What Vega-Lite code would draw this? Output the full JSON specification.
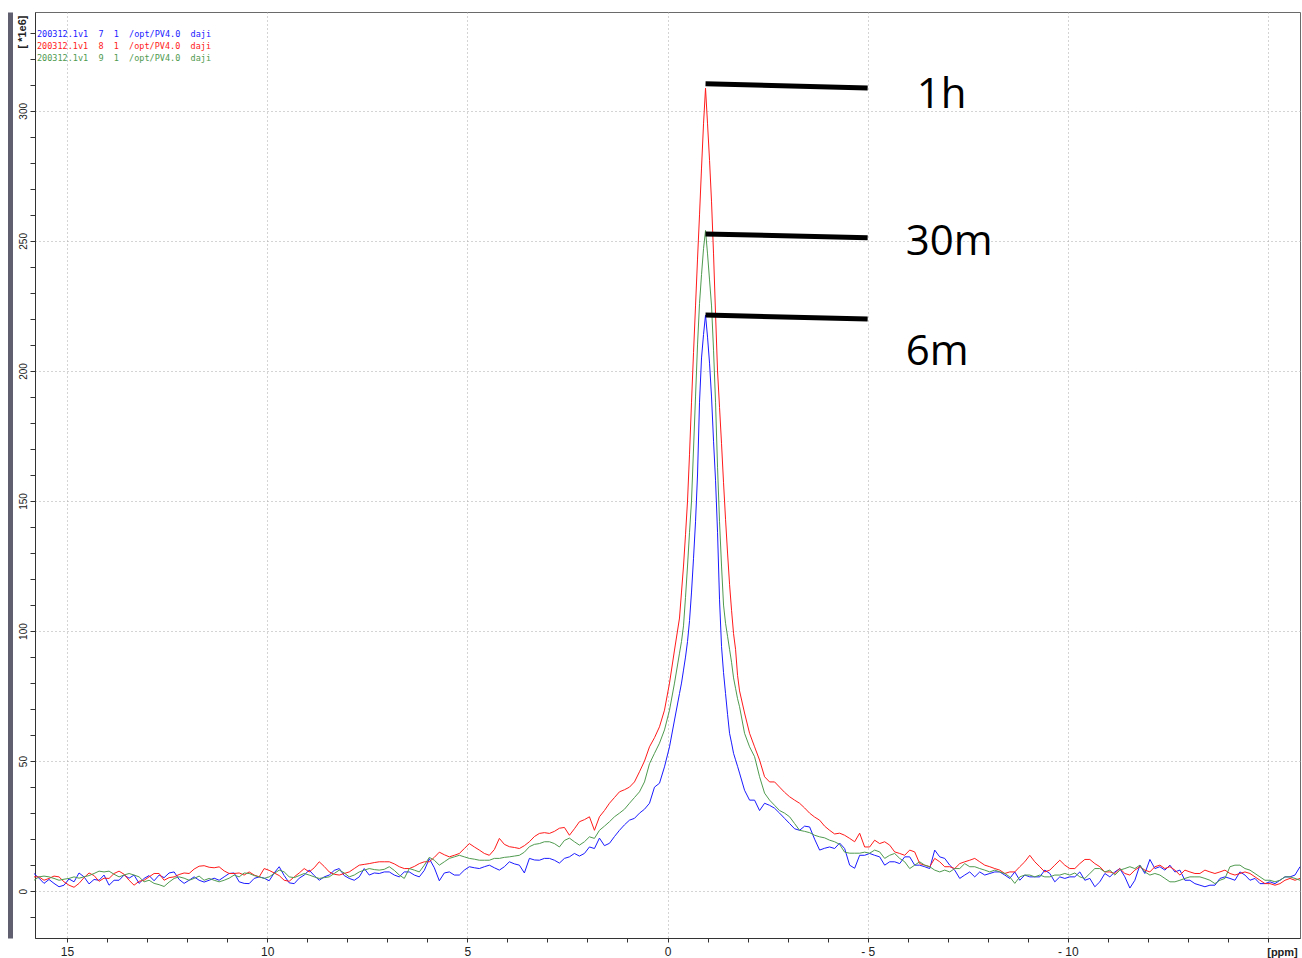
{
  "$schema": "https://vega.github.io/schema/vega-lite/v6.json",
  "width": 1265,
  "height": 926,
  "autosize": {"type": "none"},
  "padding": {"left": 35, "top": 12, "right": 2, "bottom": 20},
  "background": "white",
  "config": {"view": {"stroke": "#6a6a6a", "strokeWidth": 1}},
  "datasets": {
    "spec": [
      {"x":15.825,"r":5.5,"g":4.2,"b":6.8},{"x":15.7,"r":5.5,"g":5.5,"b":5.0},{"x":15.575,"r":4.2,"g":5.8,"b":3.0},{"x":15.45,"r":4.9,"g":5.5,"b":4.5},{"x":15.325,"r":5.8,"g":4.9,"b":3.0},{"x":15.2,"r":5.5,"g":4.2,"b":1.7},{"x":15.075,"r":3.6,"g":4.6,"b":2.3},{"x":14.95,"r":2.3,"g":4.9,"b":4.7},{"x":14.825,"r":1.5,"g":5.5,"b":3.6},{"x":14.7,"r":3.0,"g":5.0,"b":7.0},
      {"x":14.575,"r":5.2,"g":5.5,"b":5.5},{"x":14.45,"r":7.0,"g":6.0,"b":2.8},{"x":14.325,"r":6.0,"g":6.8,"b":4.5},{"x":14.2,"r":3.8,"g":7.7,"b":4.2},{"x":14.075,"r":5.0,"g":7.4,"b":6.2},{"x":13.95,"r":4.9,"g":7.7,"b":2.3},{"x":13.825,"r":6.8,"g":6.5,"b":4.2},{"x":13.7,"r":7.7,"g":5.5,"b":4.2},{"x":13.575,"r":6.5,"g":6.2,"b":6.2},{"x":13.45,"r":4.2,"g":6.8,"b":5.0},
      {"x":13.325,"r":2.3,"g":6.2,"b":6.2},{"x":13.2,"r":3.8,"g":5.5,"b":3.0},{"x":13.075,"r":4.2,"g":3.6,"b":4.9},{"x":12.95,"r":5.5,"g":4.2,"b":6.0},{"x":12.825,"r":6.8,"g":3.0,"b":4.0},{"x":12.7,"r":6.8,"g":2.5,"b":6.2},{"x":12.575,"r":4.2,"g":1.8,"b":5.2},{"x":12.45,"r":5.2,"g":3.5,"b":7.0},{"x":12.325,"r":5.5,"g":4.9,"b":7.4},{"x":12.2,"r":6.4,"g":5.5,"b":4.5},
      {"x":12.075,"r":7.0,"g":5.0,"b":3.0},{"x":11.95,"r":6.8,"g":4.2,"b":4.2},{"x":11.825,"r":8.5,"g":4.9,"b":5.5},{"x":11.7,"r":9.6,"g":5.8,"b":4.2},{"x":11.575,"r":9.8,"g":4.2,"b":3.5},{"x":11.45,"r":9.2,"g":4.9,"b":4.2},{"x":11.325,"r":9.0,"g":4.2,"b":5.0},{"x":11.2,"r":9.35,"g":3.6,"b":4.2},{"x":11.075,"r":7.8,"g":4.2,"b":5.5},{"x":10.95,"r":6.8,"g":5.0,"b":6.8},
      {"x":10.825,"r":6.8,"g":6.2,"b":7.0},{"x":10.7,"r":7.0,"g":5.5,"b":3.6},{"x":10.575,"r":6.2,"g":7.0,"b":3.0},{"x":10.45,"r":7.4,"g":6.8,"b":2.9},{"x":10.325,"r":6.2,"g":6.0,"b":4.9},{"x":10.2,"r":5.5,"g":5.5,"b":5.5},{"x":10.075,"r":8.7,"g":4.9,"b":5.0},{"x":9.95,"r":8.0,"g":5.5,"b":4.0},{"x":9.825,"r":7.0,"g":6.8,"b":7.0},{"x":9.7,"r":6.0,"g":8.1,"b":9.4},
      {"x":9.575,"r":4.2,"g":7.4,"b":6.0},{"x":9.45,"r":3.8,"g":5.5,"b":3.2},{"x":9.325,"r":5.5,"g":5.2,"b":2.9},{"x":9.2,"r":7.0,"g":6.0,"b":5.0},{"x":9.075,"r":8.7,"g":6.8,"b":6.2},{"x":8.95,"r":7.4,"g":6.2,"b":8.1},{"x":8.825,"r":9.0,"g":5.5,"b":6.0},{"x":8.7,"r":11.3,"g":4.9,"b":4.2},{"x":8.575,"r":9.5,"g":5.2,"b":5.5},{"x":8.45,"r":7.4,"g":5.5,"b":6.2},
      {"x":8.325,"r":6.5,"g":6.8,"b":8.0},{"x":8.2,"r":6.2,"g":8.1,"b":8.7},{"x":8.075,"r":6.8,"g":7.0,"b":6.0},{"x":7.95,"r":7.4,"g":5.5,"b":4.9},{"x":7.825,"r":8.7,"g":6.2,"b":4.2},{"x":7.7,"r":10.0,"g":7.4,"b":5.5},{"x":7.575,"r":10.3,"g":8.1,"b":8.7},{"x":7.45,"r":10.6,"g":8.7,"b":6.2},{"x":7.325,"r":11.0,"g":8.3,"b":7.0},{"x":7.2,"r":11.3,"g":8.1,"b":6.8},
      {"x":7.075,"r":11.3,"g":8.4,"b":7.4},{"x":6.95,"r":11.3,"g":9.4,"b":7.4},{"x":6.825,"r":10.5,"g":8.0,"b":6.2},{"x":6.7,"r":9.4,"g":6.2,"b":5.5},{"x":6.575,"r":8.7,"g":4.9,"b":7.4},{"x":6.45,"r":8.7,"g":8.7,"b":7.4},{"x":6.325,"r":9.5,"g":8.1,"b":6.2},{"x":6.2,"r":10.6,"g":7.4,"b":5.5},{"x":6.075,"r":11.3,"g":10.0,"b":8.0},{"x":5.95,"r":11.3,"g":13.0,"b":12.5},
      {"x":5.825,"r":13.0,"g":11.9,"b":9.0},{"x":5.7,"r":15.0,"g":10.0,"b":4.0},{"x":5.575,"r":14.0,"g":11.3,"b":7.0},{"x":5.45,"r":13.2,"g":12.6,"b":7.4},{"x":5.325,"r":13.8,"g":13.2,"b":6.2},{"x":5.2,"r":14.5,"g":13.8,"b":6.2},{"x":5.075,"r":16.4,"g":13.2,"b":8.1},{"x":4.95,"r":18.3,"g":12.6,"b":9.4},{"x":4.825,"r":17.0,"g":12.3,"b":9.0},{"x":4.7,"r":15.8,"g":11.9,"b":8.7},
      {"x":4.575,"r":14.5,"g":11.9,"b":9.4},{"x":4.45,"r":13.8,"g":11.9,"b":10.0},{"x":4.325,"r":16.0,"g":12.6,"b":9.0},{"x":4.2,"r":20.3,"g":12.6,"b":8.1},{"x":4.075,"r":18.0,"g":13.0,"b":9.4},{"x":3.95,"r":17.1,"g":13.2,"b":11.3},{"x":3.825,"r":16.8,"g":13.5,"b":10.5},{"x":3.7,"r":16.4,"g":13.8,"b":10.0},{"x":3.575,"r":17.5,"g":15.0,"b":7.0},{"x":3.45,"r":19.0,"g":17.1,"b":12.6},
      {"x":3.325,"r":21.0,"g":18.0,"b":12.0},{"x":3.2,"r":22.2,"g":18.3,"b":11.9},{"x":3.075,"r":22.5,"g":19.0,"b":12.6},{"x":2.95,"r":22.2,"g":19.0,"b":12.6},{"x":2.825,"r":23.0,"g":18.3,"b":11.9},{"x":2.7,"r":24.2,"g":17.0,"b":10.8},{"x":2.575,"r":24.5,"g":19.5,"b":12.6},{"x":2.45,"r":21.5,"g":20.4,"b":13.2},{"x":2.325,"r":24.0,"g":19.0,"b":14.5},{"x":2.2,"r":26.7,"g":17.7,"b":13.5},
      {"x":2.075,"r":27.5,"g":19.0,"b":14.5},{"x":1.95,"r":28.6,"g":20.9,"b":17.0},{"x":1.825,"r":23.4,"g":20.3,"b":16.4},{"x":1.7,"r":28.6,"g":23.4,"b":20.4},{"x":1.575,"r":31.0,"g":25.0,"b":17.5},{"x":1.45,"r":33.8,"g":26.7,"b":18.4},{"x":1.325,"r":36.0,"g":28.6,"b":21.0},{"x":1.2,"r":38.2,"g":30.0,"b":23.4},{"x":1.075,"r":39.0,"g":31.5,"b":25.5},{"x":0.95,"r":40.0,"g":33.8,"b":27.3},
      {"x":0.825,"r":42.0,"g":36.0,"b":28.0},{"x":0.7,"r":45.9,"g":38.2,"b":30.0},{"x":0.575,"r":50.0,"g":42.0,"b":31.5},{"x":0.45,"r":55.5,"g":49.0,"b":33.8},{"x":0.325,"r":59.0,"g":53.0,"b":40.0},{"x":0.2,"r":63.2,"g":56.9,"b":41.5},{"x":0.075,"r":69.6,"g":62.0,"b":47.8},{"x":-0.05,"r":80.0,"g":69.6,"b":55.5},{"x":-0.175,"r":92.7,"g":80.0,"b":65.8},
      {"x":-0.3,"r":105,"g":91.5,"b":76},{"x":-0.35,"r":115,"g":96,"b":80},{"x":-0.4,"r":125,"g":102,"b":85},{"x":-0.45,"r":137,"g":113,"b":90},{"x":-0.5,"r":150,"g":125,"b":96},{"x":-0.55,"r":168,"g":138,"b":104},{"x":-0.6,"r":188,"g":150,"b":115},{"x":-0.65,"r":207,"g":170,"b":128},{"x":-0.7,"r":225,"g":190,"b":142},{"x":-0.75,"r":243,"g":210,"b":160},
      {"x":-0.8,"r":260,"g":226,"b":188},{"x":-0.85,"r":278,"g":237,"b":205},{"x":-0.9,"r":295,"g":247,"b":214},{"x":-0.95,"r":308.7,"g":254,"b":221.5},{"x":-1.0,"r":295,"g":245,"b":213},{"x":-1.05,"r":281,"g":235,"b":203},{"x":-1.1,"r":265,"g":225,"b":190},{"x":-1.15,"r":245,"g":208,"b":173},{"x":-1.2,"r":222,"g":188,"b":158},{"x":-1.25,"r":200,"g":163,"b":138},
      {"x":-1.3,"r":186,"g":142,"b":112},{"x":-1.35,"r":172,"g":125,"b":94},{"x":-1.4,"r":157,"g":110,"b":84},{"x":-1.45,"r":143,"g":103,"b":76},{"x":-1.5,"r":130,"g":98,"b":68},{"x":-1.55,"r":118,"g":93,"b":60.7},{"x":-1.6,"r":108,"g":88,"b":57},{"x":-1.65,"r":99,"g":82,"b":53},{"x":-1.7,"r":93,"g":78,"b":50.5},{"x":-1.75,"r":83,"g":74,"b":48},{"x":-1.8,"r":77,"g":70.9,"b":45.4},
      {"x":-1.925,"r":68.5,"g":60.7,"b":38.8},{"x":-2.05,"r":60.7,"g":55.5,"b":35},{"x":-2.175,"r":55.5,"g":51.7,"b":35},{"x":-2.3,"r":50.4,"g":44,"b":31},{"x":-2.425,"r":44,"g":37.7,"b":33.8},{"x":-2.55,"r":42,"g":35,"b":33},{"x":-2.675,"r":42,"g":33,"b":31.9},{"x":-2.8,"r":40,"g":31,"b":30},{"x":-2.925,"r":38,"g":30,"b":28},{"x":-3.05,"r":36.3,"g":28.6,"b":26},
      {"x":-3.175,"r":35,"g":26,"b":24},{"x":-3.3,"r":33.8,"g":23.4,"b":23.4},{"x":-3.425,"r":32,"g":23,"b":25},{"x":-3.55,"r":30,"g":22.5,"b":24.7},{"x":-3.675,"r":28.5,"g":21.5,"b":20},{"x":-3.8,"r":27.3,"g":20.9,"b":15.8},{"x":-3.925,"r":25,"g":20.5,"b":16.5},{"x":-4.05,"r":23.4,"g":19.6,"b":17},{"x":-4.175,"r":22,"g":19,"b":16.4},{"x":-4.3,"r":22.3,"g":18,"b":18.5},
      {"x":-4.425,"r":21.5,"g":15,"b":16.4},{"x":-4.55,"r":20.3,"g":14.6,"b":10},{"x":-4.675,"r":19,"g":14.6,"b":8.8},{"x":-4.8,"r":22.3,"g":14.6,"b":13.8},{"x":-4.925,"r":17,"g":15,"b":13.8},{"x":-5.05,"r":17,"g":14.6,"b":14.5},{"x":-5.175,"r":19.6,"g":15.8,"b":13.8},{"x":-5.3,"r":18.3,"g":15.1,"b":13.2},{"x":-5.425,"r":19.0,"g":12.6,"b":10.0},{"x":-5.55,"r":17.7,"g":13.8,"b":11.3},
      {"x":-5.675,"r":15.1,"g":14.5,"b":11.3},{"x":-5.8,"r":14.5,"g":12.6,"b":10.6},{"x":-5.925,"r":13.8,"g":11.3,"b":13.2},{"x":-6.05,"r":15.8,"g":8.7,"b":13.2},{"x":-6.175,"r":15.1,"g":10.0,"b":10.0},{"x":-6.3,"r":10.6,"g":11.3,"b":10.0},{"x":-6.425,"r":10.0,"g":10.0,"b":9.4},{"x":-6.55,"r":9.4,"g":9.4,"b":8.7},{"x":-6.675,"r":12.6,"g":8.1,"b":15.8},{"x":-6.8,"r":11.3,"g":7.4,"b":13.2},
      {"x":-6.925,"r":9.4,"g":8.1,"b":12.6},{"x":-7.05,"r":9.4,"g":7.4,"b":10.0},{"x":-7.175,"r":8.7,"g":8.7,"b":8.1},{"x":-7.3,"r":10.6,"g":8.7,"b":4.9},{"x":-7.425,"r":11.3,"g":10.6,"b":6.2},{"x":-7.55,"r":11.9,"g":9.4,"b":7.4},{"x":-7.675,"r":12.6,"g":9.4,"b":5.5},{"x":-7.8,"r":11.3,"g":8.7,"b":7.4},{"x":-7.925,"r":10.0,"g":8.1,"b":6.2},{"x":-8.05,"r":9.4,"g":7.4,"b":6.8},
      {"x":-8.175,"r":8.7,"g":8.1,"b":7.4},{"x":-8.3,"r":8.1,"g":7.4,"b":7.4},{"x":-8.425,"r":6.8,"g":6.8,"b":6.2},{"x":-8.55,"r":7.4,"g":5.5,"b":4.9},{"x":-8.675,"r":7.4,"g":3.0,"b":7.4},{"x":-8.8,"r":9.4,"g":5.5,"b":4.2},{"x":-8.925,"r":11.3,"g":6.2,"b":6.2},{"x":-9.05,"r":13.8,"g":6.2,"b":5.5},{"x":-9.175,"r":11.3,"g":5.5,"b":5.5},{"x":-9.3,"r":9.4,"g":6.2,"b":5.5},
      {"x":-9.425,"r":7.4,"g":5.5,"b":8.1},{"x":-9.55,"r":8.1,"g":5.5,"b":6.8},{"x":-9.675,"r":10.0,"g":6.2,"b":3.6},{"x":-9.8,"r":11.9,"g":6.2,"b":5.5},{"x":-9.925,"r":10.0,"g":6.8,"b":4.9},{"x":-10.05,"r":8.7,"g":6.2,"b":5.5},{"x":-10.175,"r":8.7,"g":7.0,"b":5.5},{"x":-10.3,"r":10.6,"g":5.5,"b":7.4},{"x":-10.425,"r":12.2,"g":4.9,"b":4.2},{"x":-10.55,"r":12.2,"g":6.8,"b":4.9},
      {"x":-10.675,"r":10.6,"g":8.7,"b":1.7},{"x":-10.8,"r":9.4,"g":8.7,"b":3.6},{"x":-10.925,"r":7.4,"g":7.4,"b":6.8},{"x":-11.05,"r":7.4,"g":8.1,"b":5.5},{"x":-11.175,"r":6.8,"g":6.2,"b":7.4},{"x":-11.3,"r":8.7,"g":8.1,"b":8.7},{"x":-11.425,"r":6.8,"g":8.7,"b":5.5},{"x":-11.55,"r":6.2,"g":9.4,"b":1.2},{"x":-11.675,"r":8.1,"g":8.7,"b":4.2},{"x":-11.8,"r":9.4,"g":10.0,"b":10.0},
      {"x":-11.925,"r":8.1,"g":7.4,"b":6.8},{"x":-12.05,"r":7.4,"g":6.2,"b":12.2},{"x":-12.175,"r":9.4,"g":6.8,"b":8.7},{"x":-12.3,"r":10.0,"g":6.2,"b":9.4},{"x":-12.425,"r":8.7,"g":4.9,"b":8.1},{"x":-12.55,"r":9.4,"g":3.6,"b":10.0},{"x":-12.675,"r":8.1,"g":3.6,"b":7.4},{"x":-12.8,"r":6.2,"g":4.2,"b":8.1},{"x":-12.925,"r":8.1,"g":4.9,"b":4.2},{"x":-13.05,"r":7.4,"g":5.5,"b":4.2},
      {"x":-13.175,"r":6.8,"g":5.5,"b":2.9},{"x":-13.3,"r":6.8,"g":5.5,"b":2.3},{"x":-13.425,"r":8.1,"g":4.9,"b":1.7},{"x":-13.55,"r":7.4,"g":4.2,"b":2.3},{"x":-13.675,"r":6.8,"g":2.9,"b":2.3},{"x":-13.8,"r":7.4,"g":4.2,"b":4.9},{"x":-13.925,"r":8.1,"g":4.9,"b":5.5},{"x":-14.05,"r":6.8,"g":9.4,"b":4.9},{"x":-14.175,"r":6.2,"g":10.0,"b":4.2},{"x":-14.3,"r":6.8,"g":10.0,"b":7.4},
      {"x":-14.425,"r":7.4,"g":8.7,"b":6.2},{"x":-14.55,"r":6.8,"g":8.1,"b":4.2},{"x":-14.675,"r":5.5,"g":6.8,"b":4.9},{"x":-14.8,"r":4.2,"g":5.5,"b":2.9},{"x":-14.925,"r":2.9,"g":4.2,"b":2.9},{"x":-15.05,"r":2.9,"g":4.2,"b":3.6},{"x":-15.175,"r":2.3,"g":3.6,"b":2.9},{"x":-15.3,"r":2.9,"g":4.2,"b":4.2},{"x":-15.425,"r":4.2,"g":5.5,"b":5.5},{"x":-15.55,"r":4.9,"g":5.5,"b":5.5},
      {"x":-15.675,"r":4.2,"g":4.9,"b":6.2},{"x":-15.8,"r":4.9,"g":4.2,"b":9.4}
    ],
    "ann": [
      {"x":-0.95,"v":310.4,"xe":-5.0,"ve":308.8},
      {"x":-0.95,"v":252.7,"xe":-5.0,"ve":251.2},
      {"x":-0.95,"v":221.5,"xe":-5.0,"ve":220.0}
    ],
    "lab": [
      {"x":-6.225,"v":301.0,"label":"1h"},
      {"x":-5.95,"v":244.6,"label":"30m"},
      {"x":-5.95,"v":202.3,"label":"6m"}
    ],
    "leg": [
      {"x":15.75,"v":329.5,"s":"b","t":"200312.1v1\u00a0\u00a07\u00a0\u00a01\u00a0\u00a0/opt/PV4.0\u00a0\u00a0daji"},
      {"x":15.75,"v":325.1,"s":"r","t":"200312.1v1\u00a0\u00a08\u00a0\u00a01\u00a0\u00a0/opt/PV4.0\u00a0\u00a0daji"},
      {"x":15.75,"v":320.4,"s":"g","t":"200312.1v1\u00a0\u00a09\u00a0\u00a01\u00a0\u00a0/opt/PV4.0\u00a0\u00a0daji"}
    ]
  },
  "resolve": {"axis": {"y": "independent"}},
  "encoding": {
    "x": {
      "field": "x", "type": "quantitative",
      "scale": {"domain": [-15.8, 15.8], "reverse": true, "nice": false, "zero": false},
      "axis": {
        "orient": "bottom",
        "values": [-15,-14,-13,-12,-11,-10,-9,-8,-7,-6,-5,-4,-3,-2,-1,0,1,2,3,4,5,6,7,8,9,10,11,12,13,14,15],
        "labelExpr": "datum.value % 5 === 0 && datum.value > -15 ? (datum.value < 0 ? '- ' + abs(datum.value) : '' + datum.value) : ''",
        "labelOverlap": false, "labelFlush": false,
        "labelFont": "Liberation Sans", "labelFontSize": 12, "labelColor": "#222222",
        "labelPadding": 4, "tickSize": 4, "tickColor": "#333333", "domainColor": "#333333",
        "grid": true, "gridColor": "#a8a8a8", "gridDash": [1, 3],
        "gridOpacity": {"condition": {"test": "datum.value % 5 === 0", "value": 1}, "value": 0},
        "title": "[ppm]", "titleX": 1247, "titleY": 14, "titleAlign": "center", "titleBaseline": "middle",
        "titleFont": "Liberation Sans", "titleFontSize": 11, "titleFontWeight": "bold", "titleColor": "#222222"
      }
    },
    "y": {
      "field": "v", "type": "quantitative",
      "scale": {"domain": [-18, 338], "nice": false, "zero": false},
      "axis": {
        "orient": "left",
        "values": [-10,0,10,20,30,40,50,60,70,80,90,100,110,120,130,140,150,160,170,180,190,200,210,220,230,240,250,260,270,280,290,300,310,320,330],
        "labelExpr": "datum.value % 50 === 0 ? '' + datum.value : ''",
        "labelOverlap": false, "labelFlush": false,
        "labelAngle": 270, "labelAlign": "center", "labelBaseline": "middle",
        "labelFont": "Liberation Sans", "labelFontSize": 10, "labelColor": "#222222",
        "labelPadding": 7, "tickSize": 5, "tickColor": "#333333", "domainColor": "#333333",
        "grid": true, "gridColor": "#a8a8a8", "gridDash": [1, 3],
        "gridOpacity": {"condition": {"test": "datum.value % 50 === 0", "value": 1}, "value": 0},
        "title": "[ *1e6]", "titleAngle": 270, "titleX": -13, "titleY": 3, "titleAlign": "right", "titleBaseline": "middle",
        "titleFont": "Liberation Sans", "titleFontSize": 11, "titleFontWeight": "bold", "titleColor": "#222222"
      }
    }
  },
  "layer": [
    {
      "data": {"name": "spec"},
      "transform": [{"fold": ["b", "r", "g"], "as": ["s", "v"]}],
      "mark": {"type": "line", "strokeWidth": 1},
      "encoding": {
        "color": {
          "field": "s", "type": "nominal",
          "scale": {"domain": ["b", "r", "g"], "range": ["#1a1aff", "#ff1a1a", "#4f9a4f"]},
          "legend": null
        }
      }
    },
    {
      "data": {"name": "ann"},
      "mark": {"type": "rule", "strokeWidth": 5, "color": "#000000"},
      "encoding": {
        "y": {"field": "v", "type": "quantitative",
              "axis": {"orient": "left", "offset": 25, "domain": true, "domainWidth": 5, "domainColor": "#5f5f70", "ticks": false, "labels": false, "grid": false, "title": null}},
        "x2": {"field": "xe"},
        "y2": {"field": "ve"}
      }
    },
    {
      "data": {"name": "lab"},
      "mark": {"type": "text", "font": "Open Sans", "fontSize": 42, "align": "left", "baseline": "alphabetic", "color": "#000000"},
      "encoding": {
        "y": {"field": "v", "type": "quantitative", "axis": null},
        "text": {"field": "label"}
      }
    },
    {
      "data": {"name": "leg"},
      "mark": {"type": "text", "font": "DejaVu Sans Mono", "fontSize": 8.5, "align": "left", "baseline": "middle"},
      "encoding": {
        "y": {"field": "v", "type": "quantitative", "axis": null},
        "text": {"field": "t"},
        "color": {"field": "s", "type": "nominal", "legend": null}
      }
    }
  ]
}
